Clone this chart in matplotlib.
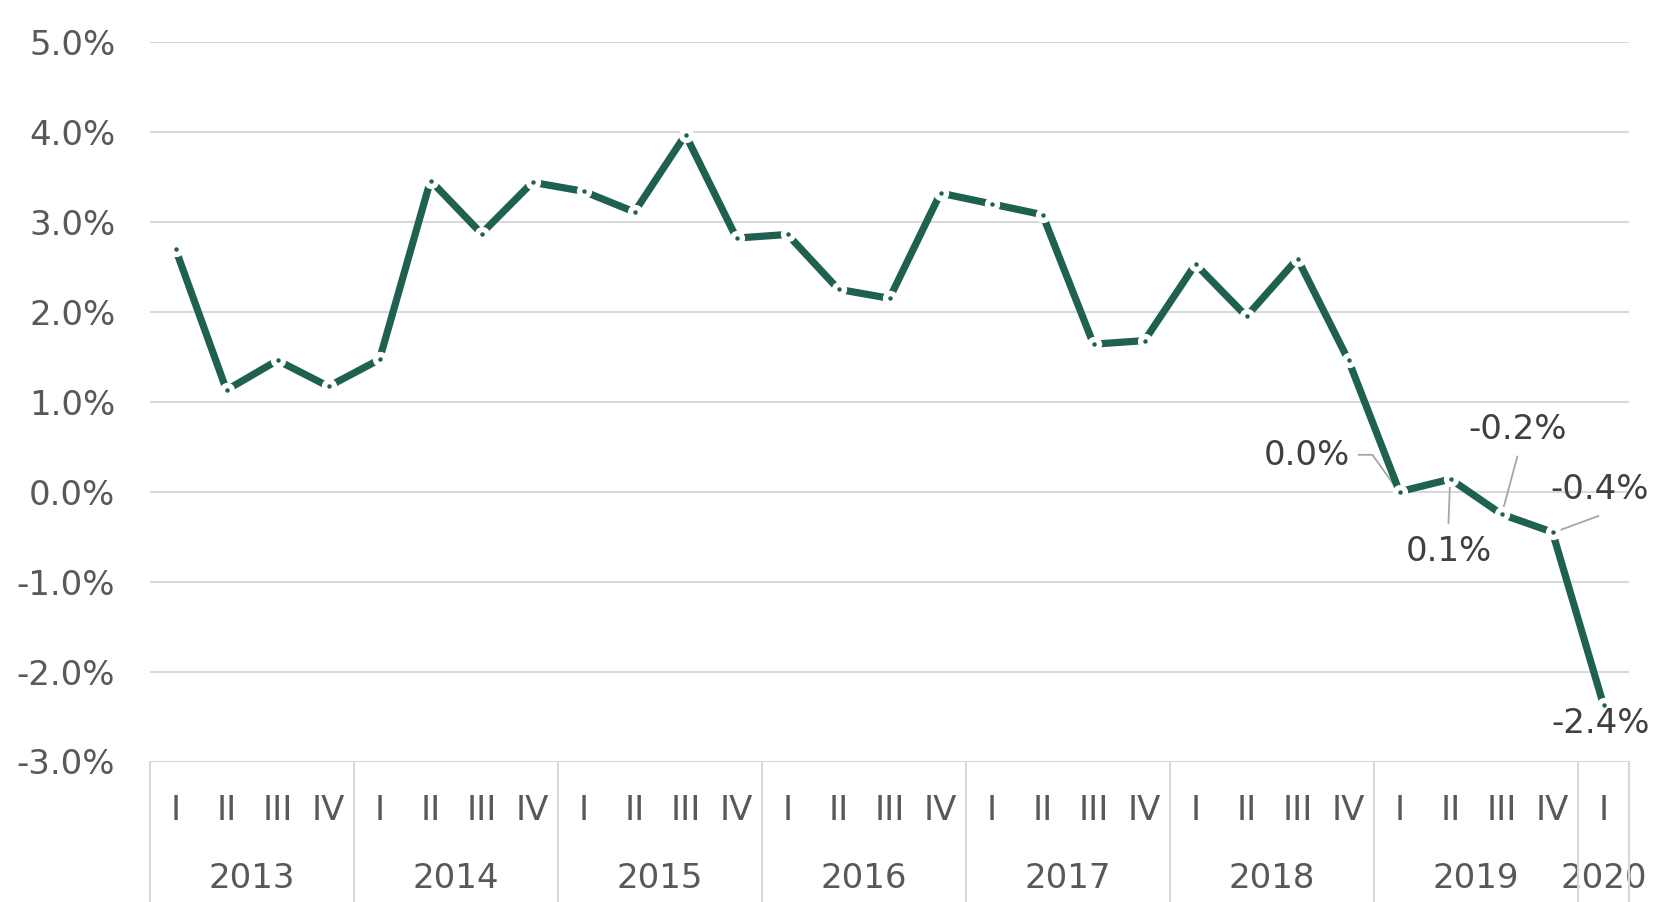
import matplotlib
matplotlib.use("Agg")
import matplotlib.pyplot as plt
import matplotlib.transforms as mtransforms
from matplotlib.lines import Line2D

# ---- data ----
years = ["2013", "2014", "2015", "2016", "2017", "2018", "2019", "2020"]
quarters = ["I", "II", "III", "IV"]
n_quarters_per_year = [4, 4, 4, 4, 4, 4, 4, 1]
values = [2.7, 1.13, 1.46, 1.17,
          1.47, 3.46, 2.87, 3.44,
          3.34, 3.11, 3.97, 2.82,
          2.86, 2.25, 2.15, 3.32,
          3.20, 3.08, 1.64, 1.68,
          2.53, 1.95, 2.59, 1.46,
          0.0, 0.14, -0.25, -0.45,
          -2.37]
labeled_idx = [24, 25, 26, 27, 28]
label_texts = ["0.0%", "0.1%", "-0.2%", "-0.4%", "-2.4%"]
yticks = [-3, -2, -1, 0, 1, 2, 3, 4, 5]

# ---- style ----
GREEN = "#1E6150"
GRID = "#D9D9D9"
TXT = "#595959"
LBL = "#404040"
FONT = "DejaVu Sans"
FS = 24.5

W, H = 1655, 902
fig = plt.figure(figsize=(W / 100, H / 100), dpi=100)
left, right = 150 / W, 1629 / W
top, bottom = 1 - 42 / H, 1 - 761.5 / H
ax = fig.add_axes([left, bottom, right - left, top - bottom])

x = list(range(len(values)))
ax.set_xlim(-0.5, len(values) - 0.5)
ax.set_ylim(-3, 5)

for yv in yticks:
    ax.axhline(yv, color=GRID, lw=1.5, zorder=0)

ax.plot(x, values, color=GREEN, lw=5.2, solid_capstyle="butt", zorder=2)
ax.plot(x, values, linestyle="none", marker="o", ms=11, mfc="white", mec="white", mew=0, zorder=3)
ax.plot(x, values, linestyle="none", marker="o", ms=3.2, mfc=GREEN, mec=GREEN, mew=0, zorder=4)

for s in ax.spines.values():
    s.set_visible(False)
ax.set_xticks([])
ax.set_yticks(yticks)
ax.set_yticklabels([f"{v:.1f}%" for v in yticks], fontsize=FS, color=TXT, family=FONT)
ax.tick_params(axis="y", length=0, pad=25)

# ---- category axis (two-level) ----
trans = mtransforms.blended_transform_factory(ax.transData, fig.transFigure)
y_q = 1 - 810 / H
y_y = 1 - 879 / H
pos = 0
bounds = [-0.5]
for yr, nq in zip(years, n_quarters_per_year):
    for q in range(nq):
        ax.text(pos + q, y_q, quarters[q], transform=trans, ha="center", va="center",
                fontsize=FS, color=TXT, family=FONT, clip_on=False)
    ax.text(pos + (nq - 1) / 2, y_y, yr, transform=trans, ha="center", va="center",
            fontsize=FS, color=TXT, family=FONT, clip_on=False)
    pos += nq
    bounds.append(pos - 0.5)

for b in bounds:
    fig.add_artist(Line2D([b, b], [bottom, 0], transform=trans, color=GRID, lw=1.5))

# ---- data labels ----
label_offsets = [(-1.82, 0.40), (-0.03, -0.81), (0.32, 0.94), (0.92, 0.47), (-0.05, -0.21)]
leaders = [
    [(-0.80, 0.41), (-0.53, 0.41), (-0.04, 0.02)],
    [(-0.04, -0.49), (-0.01, -0.04)],
    [(0.31, 0.64), (0.02, 0.03)],
    [(0.90, 0.18), (0.04, 0.0)],
    None,
]
for i, txt, (dx, dy), ld in zip(labeled_idx, label_texts, label_offsets, leaders):
    xv, yv = x[i], values[i]
    ax.text(xv + dx, yv + dy, txt, ha="center", va="center", fontsize=FS,
            color=LBL, family=FONT, clip_on=False, zorder=5)
    if ld:
        ax.plot([xv + p[0] for p in ld], [yv + p[1] for p in ld], color="#A6A6A6",
                lw=1.3, zorder=1, clip_on=False)

fig.savefig("out.png", dpi=100, facecolor="white")
